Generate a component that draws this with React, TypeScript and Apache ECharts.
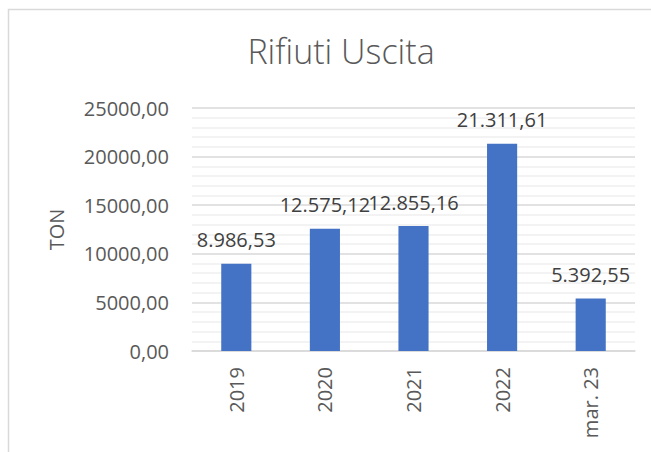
import React, { useEffect, useRef } from "react";
import * as echarts from "echarts";

const categories = ["2019", "2020", "2021", "2022", "mar. 23"];
const values = [8986.53, 12575.12, 12855.16, 21311.61, 5392.55];
const titleText = "Rifiuti Uscita";
const yAxisName = "TON";

const fmtIt = (v: number) => {
  const [i, d] = v.toFixed(2).split(".");
  return i.replace(/\B(?=(\d{3})+(?!\d))/g, ".") + "," + d;
};

export default function App() {
  const ref = useRef<HTMLDivElement>(null);
  useEffect(() => {
    const chart = echarts.init(ref.current!, null, { renderer: "svg" });
    const font = "'Open Sans', 'Liberation Sans', sans-serif";
    chart.setOption({
      animation: false,
      backgroundColor: "#ffffff",
      textStyle: { fontFamily: font },
      graphic: [
        {
          type: "rect",
          shape: { x: 8.5, y: 9.5, width: 700, height: 500 },
          style: { fill: "none", stroke: "#d9d9d9", lineWidth: 1.5 },
          silent: true,
          z: -10,
        },
      ],
      title: {
        text: titleText,
        left: 336,
        top: 29,
        textAlign: "center",
        textStyle: {
          fontFamily: font,
          fontWeight: 300,
          fontSize: 34,
          color: "#595959",
        },
      },
      grid: { left: 192, right: 16, top: 108, bottom: 101, containLabel: false },
      xAxis: {
        type: "category",
        data: categories,
        axisLine: { lineStyle: { color: "#d9d9d9", width: 1.5 } },
        axisTick: { show: false },
        axisLabel: {
          rotate: 90,
          fontSize: 20,
          color: "#595959",
          margin: 16,
          fontFamily: font,
        },
      },
      yAxis: {
        type: "value",
        min: 0,
        max: 25000,
        interval: 5000,
        name: yAxisName,
        nameLocation: "middle",
        nameGap: 126,
        nameTextStyle: { fontSize: 20, color: "#595959", fontFamily: font },
        axisLine: { show: false },
        axisTick: { show: false },
        axisLabel: {
          fontSize: 20,
          color: "#595959",
          margin: 23,
          fontFamily: font,
          formatter: (v: number) => v.toFixed(2).replace(".", ","),
        },
        splitLine: { lineStyle: { color: "#d9d9d9", width: 1.5 } },
        minorTick: { show: false, splitNumber: 5 },
        minorSplitLine: { show: true, lineStyle: { color: "#efefef", width: 1.5 } },
      },
      series: [
        {
          type: "bar",
          data: values,
          barWidth: "34%",
          itemStyle: { color: "#4472C4" },
          label: {
            show: true,
            position: "top",
            distance: 14,
            fontSize: 20,
            color: "#404040",
            fontFamily: font,
            formatter: (p: any) => fmtIt(p.value),
          },
        },
      ],
    });
    return () => chart.dispose();
  }, []);
  return (
    <div
      ref={ref}
      style={{ position: "fixed", left: 0, top: 0, width: 651, height: 452 }}
    />
  );
}
